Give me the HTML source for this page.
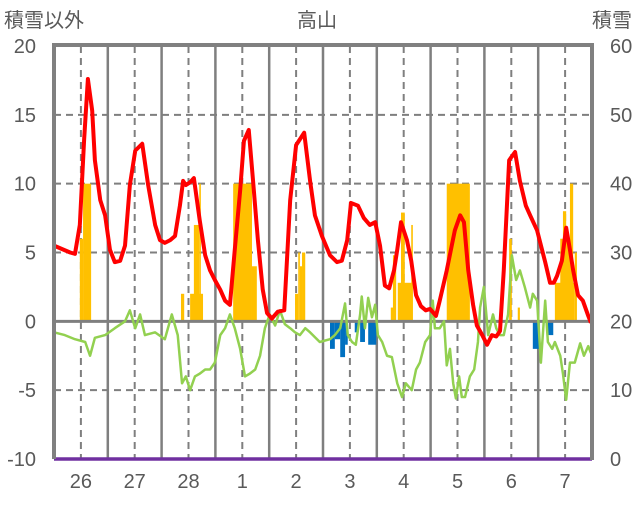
<!DOCTYPE html>
<html><head><meta charset="utf-8"><style>
html,body{margin:0;padding:0;background:#fff;}
svg text{font-family:"Liberation Sans","Noto Sans CJK JP",sans-serif;fill:#595959;}
</style></head><body>
<svg id="chart" width="636" height="501" viewBox="0 0 636 501" xmlns="http://www.w3.org/2000/svg">
<text x="4" y="27" font-size="20">積雪以外</text>
<text x="317" y="27" font-size="20" text-anchor="middle">高山</text>
<text x="632" y="27" font-size="20" text-anchor="end">積雪</text>
<g id="grid"></g><g id="bars"></g><g id="lines"></g><g id="frame"></g><g id="labels"></g>
</svg>
<script>
const dayLabels=["26","27","28","1","2","3","4","5","6","7"];
const leftTicks=[20,15,10,5,0,-5,-10];
const rightTicks=[60,50,40,30,20,10,0];
const redT=[0,.30,.39,.48,.56,.63,.71,.76,.86,.95,1.04,1.13,1.23,1.32,1.41,1.51,1.64,1.75,1.88,1.97,2.06,2.16,2.25,2.34,2.40,2.45,2.53,2.60,2.71,2.81,2.90,2.99,3.09,3.18,3.27,3.36,3.46,3.53,3.62,3.70,3.79,3.88,3.96,4.05,4.16,4.28,4.39,4.50,4.65,4.76,4.85,4.98,5.13,5.26,5.35,5.45,5.52,5.65,5.76,5.87,5.97,6.06,6.15,6.23,6.32,6.38,6.45,6.56,6.64,6.73,6.82,6.91,6.99,7.10,7.17,7.30,7.45,7.55,7.62,7.70,7.79,7.86,7.96,8.05,8.14,8.22,8.29,8.36,8.46,8.57,8.66,8.77,8.85,8.98,9.13,9.22,9.29,9.35,9.44,9.52,9.59,9.65,9.74,9.83,9.93,9.98];
const redV=[5.5,5.0,4.9,7.0,13.2,17.6,15.3,11.7,8.8,7.7,5.2,4.3,4.4,5.5,9.9,12.4,12.9,9.9,7.0,5.9,5.7,5.9,6.2,8.4,10.2,9.9,10.1,10.4,7.3,4.8,3.7,3.0,2.3,1.5,1.2,5.2,9.5,13.1,13.9,10.2,5.9,2.3,0.6,0.2,0.7,0.8,8.8,12.8,13.7,10.2,7.7,6.2,4.8,4.3,4.4,5.9,8.6,8.4,7.5,7.0,7.2,5.5,2.6,2.4,3.7,5.2,7.2,5.9,4.4,1.9,1.1,0.8,0.9,0.4,1.5,3.7,6.6,7.7,7.2,3.7,1.2,-0.3,-1.0,-1.7,-1.0,-1.1,-0.7,3.7,11.7,12.3,10.2,8.4,7.7,6.6,4.3,2.8,2.8,3.3,4.4,6.8,5.2,3.7,1.9,1.5,0.4,-0.1];
const greenT=[0,.20,.39,.58,.67,.76,.95,1.13,1.32,1.41,1.51,1.60,1.69,1.88,2.06,2.19,2.30,2.38,2.45,2.53,2.62,2.71,2.81,2.90,2.99,3.09,3.18,3.27,3.36,3.46,3.55,3.64,3.74,3.83,3.92,4.01,4.11,4.20,4.29,4.39,4.48,4.57,4.67,4.76,4.94,5.13,5.22,5.32,5.41,5.46,5.54,5.61,5.69,5.72,5.78,5.84,5.91,5.97,6.02,6.10,6.19,6.28,6.38,6.47,6.54,6.65,6.73,6.80,6.90,6.99,7.04,7.08,7.17,7.25,7.30,7.36,7.42,7.47,7.53,7.58,7.64,7.73,7.81,7.88,7.92,7.99,8.07,8.10,8.16,8.22,8.29,8.36,8.44,8.51,8.59,8.66,8.75,8.85,8.90,8.98,9.05,9.13,9.18,9.26,9.31,9.41,9.46,9.52,9.59,9.68,9.78,9.85,9.93,9.98];
const greenV=[-0.8,-1,-1.3,-1.5,-2.5,-1.2,-1,-0.5,0,0.8,-0.5,0.5,-1,-0.8,-1.3,0.5,-1,-4.5,-4,-5,-4,-3.8,-3.5,-3.5,-3,-1,-0.5,0.5,-0.5,-2,-4,-3.8,-3.5,-2.5,-0.5,0.5,-0.3,0.8,-0.2,-0.5,-0.8,-1,-0.5,-0.8,-1.5,-1.3,-1,-0.5,1.3,-1,-1.5,-1.7,0.5,1.8,-0.5,1.7,0.3,1.2,-1,-1.5,-2.5,-2.6,-4.5,-5.5,-4.5,-5,-3.5,-3,-1.5,-1,1.5,-0.5,-0.5,0,-3.2,-2,-4.5,-5.6,-4,-5.5,-5.5,-4,-3.5,-1.5,1,2.5,-1,-0.5,0.5,-0.5,-1,-1,0.5,4.8,3,3.7,2.5,1,2,1.5,-3,1.5,-1.5,-2,-1.5,-2.5,-3.8,-5.7,-3,-3,-1.6,-2.5,-1.8,-2.3];
const snowStart=[.48,.54,2.36,2.53,2.60,2.70,3.33,3.68,4.48,4.54,4.57,4.61,6.26,6.30,6.39,6.45,6.64,7.30,8.46,8.62,9.31,9.41,9.46,9.59,9.68];
const snowEnd=[.54,.69,2.42,2.77,2.70,2.73,3.68,3.77,4.54,4.57,4.61,4.67,6.34,6.36,6.67,6.52,6.67,7.73,8.51,8.66,9.68,9.63,9.52,9.65,9.72];
const snowVal=[6,10,2,2,7,10,10,4,2,5,4,5,1,4.8,2.8,7.9,7,10,6,1,2.8,6,8,10,5];
const negStart=[5.13,5.22,5.32,5.41,5.59,5.69,5.84,8.90,9.18];
const negEnd=[5.22,5.32,5.41,5.46,5.65,5.78,5.99,9.03,9.28];
const negVal=[-2,-1.3,-2.6,-1.7,-0.8,-1.5,-1.7,-2,-1];

const X0=54,X1=592,Y20=46,Ym10=459;
const x=t=>X0+t*(X1-X0)/10;
const y=v=>Ym10-(v+10)*(Ym10-Y20)/30;
const yr=v=>Ym10-v*(Ym10-Y20)/60;
const NS="http://www.w3.org/2000/svg";
function mk(tag,parent,attrs){const e=document.createElementNS(NS,tag);for(const k in attrs)e.setAttribute(k,attrs[k]);document.getElementById(parent).appendChild(e);return e;}

[15,10,5,-5].forEach(v=>{
 const l=mk('line','grid',{x1:X0,x2:X1,y1:y(v),y2:y(v),stroke:'#7f7f7f','stroke-width':2,'stroke-dasharray':'7,5'});
 
 
});
for(let d=0;d<10;d++){
 const l=mk('line','grid',{x1:x(d+0.5),x2:x(d+0.5),y1:Y20,y2:Ym10,stroke:'#7f7f7f','stroke-width':2,'stroke-dasharray':'7,5'});
 
 
 if(d>0){const s=mk('line','grid',{x1:x(d),x2:x(d),y1:Y20,y2:Ym10,stroke:'#7f7f7f','stroke-width':2.5});
 
 }
}
snowVal.forEach((v,i)=>{
 const r=mk('rect','bars',{x:x(snowStart[i]),width:x(snowEnd[i])-x(snowStart[i]),y:y(v),height:y(0)-y(v),fill:'#ffc000'});
 
 
});
negVal.forEach((v,i)=>{
 const r=mk('rect','bars',{x:x(negStart[i]),width:x(negEnd[i])-x(negStart[i]),y:y(0),height:y(v)-y(0),fill:'#0070c0'});
 
 
});
const z=mk('line','lines',{x1:X0,x2:X1,y1:y(0),y2:y(0),stroke:'#7f7f7f','stroke-width':3});


const g=mk('polyline','lines',{points:greenT.map((t,i)=>x(t)+','+y(greenV[i])).join(' '),fill:'none',stroke:'#92d050','stroke-width':2.5,'stroke-linejoin':'round'});


const r=mk('polyline','lines',{points:redT.map((t,i)=>x(t)+','+y(redV[i])).join(' '),fill:'none',stroke:'#ff0000','stroke-width':4,'stroke-linejoin':'round'});


const sl=mk('line','lines',{x1:X0,x2:X1,y1:yr(0),y2:yr(0),stroke:'#7030a0','stroke-width':3.5});


const fr=mk('path','frame',{d:`M${X0},${Ym10} L${X0},${Y20-1} L${X1},${Y20-1} L${X1},${Ym10+1}`,fill:'none',stroke:'#808080','stroke-width':4});


leftTicks.forEach(v=>{
 const t=mk('text','labels',{x:36,y:y(v)+7,'font-size':20,'text-anchor':'end'});t.textContent=v;
 
 
});
rightTicks.forEach(v=>{
 const t=mk('text','labels',{x:610,y:yr(v)+7,'font-size':20});t.textContent=v;
 
 
});
dayLabels.forEach((s,i)=>{
 const t=mk('text','labels',{x:x(i+0.5),y:488,'font-size':20,'text-anchor':'middle'});t.textContent=s;
 
 
});
</script>
</body></html>
